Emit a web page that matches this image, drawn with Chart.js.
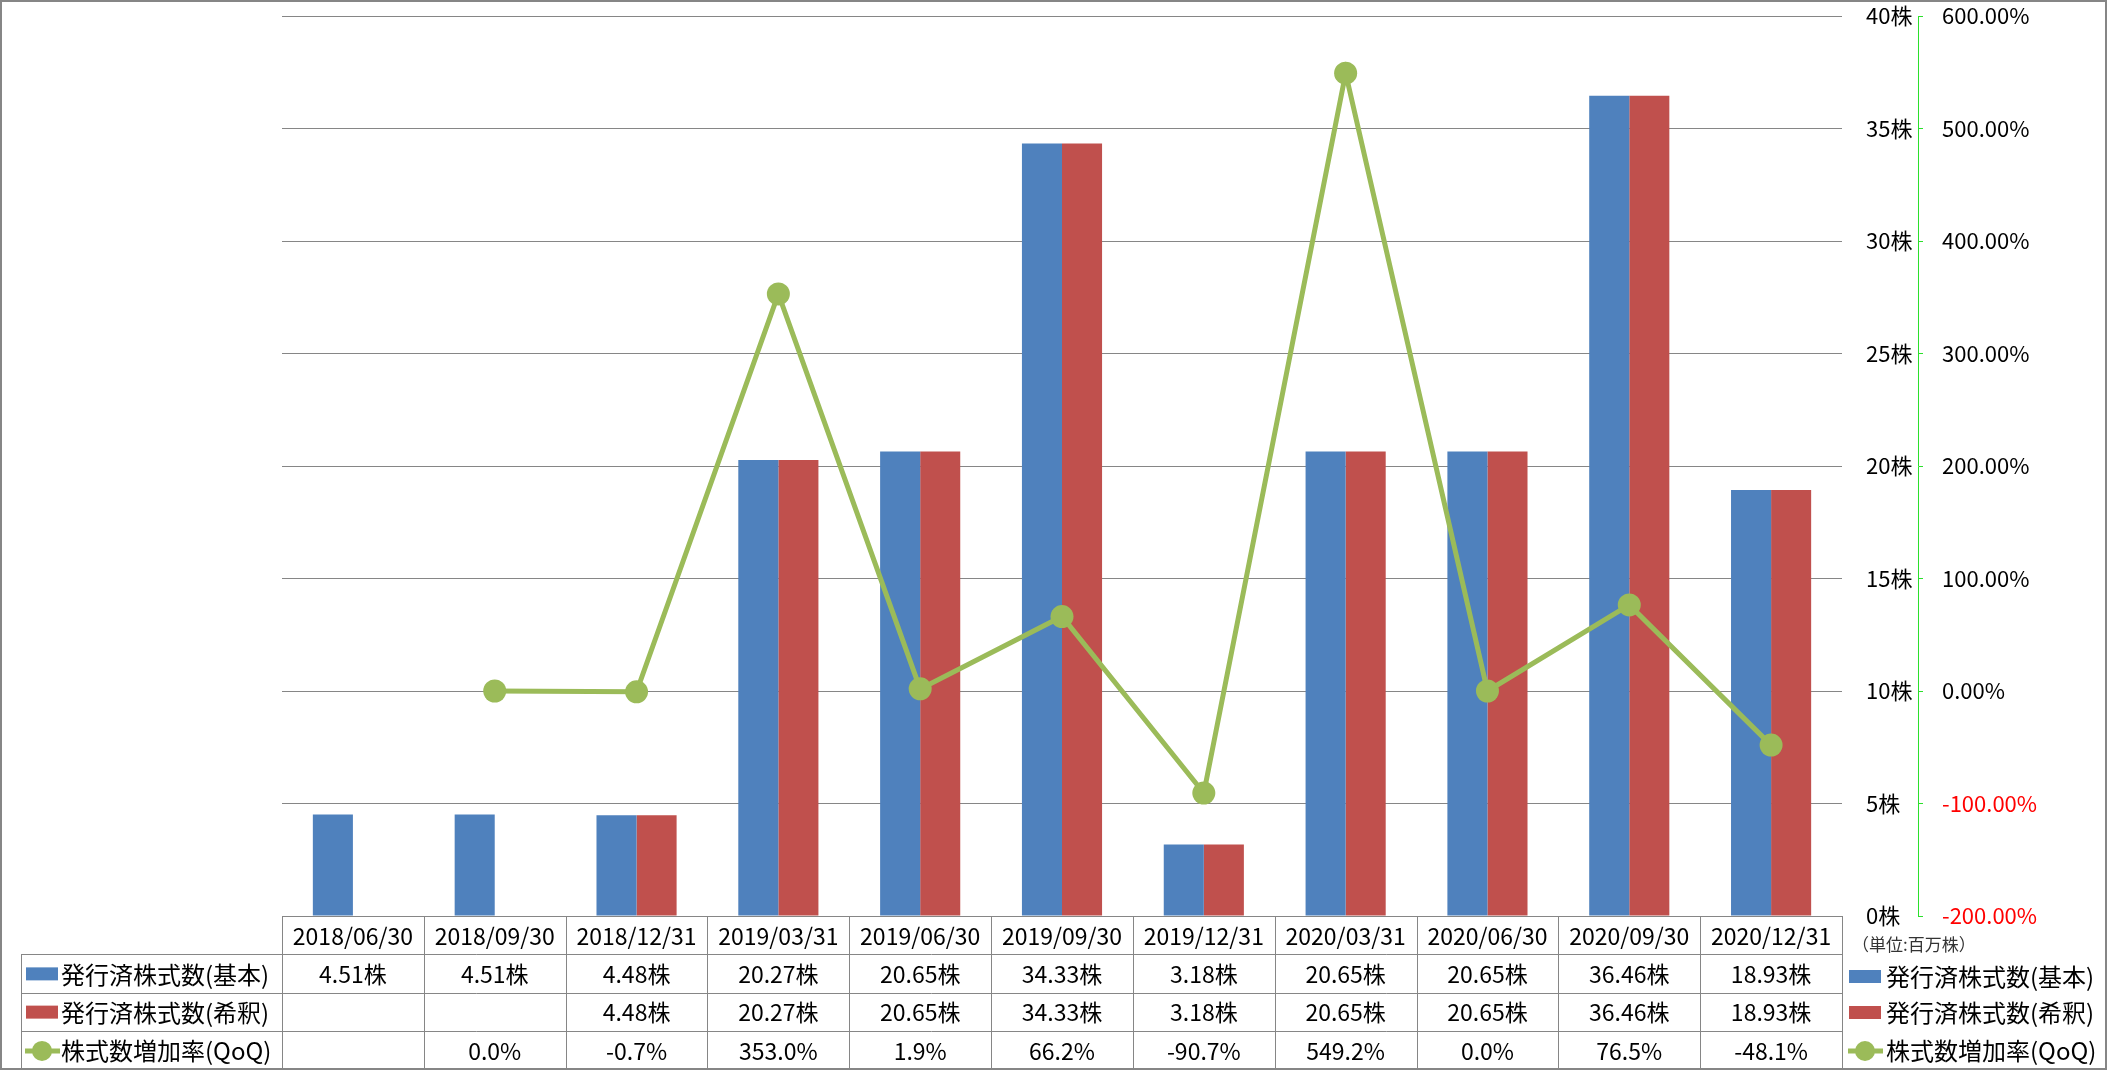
<!DOCTYPE html>
<html>
<head>
<meta charset="utf-8">
<script src="https://cdn.jsdelivr.net/npm/chart.js@4/dist/chart.umd.min.js"></script>
<style>
  html, body { margin: 0; padding: 0; background: #fff; }
  #wrap { width: 2107px; height: 1071px; }
</style>
</head>
<body>
<div id="wrap"><canvas id="sharesChart" width="2107" height="1071"></canvas></div>
<script>
// Data
const labels = [
  '2018/06/30', '2018/09/30', '2018/12/31', '2019/03/31', '2019/06/30', '2019/09/30',
  '2019/12/31', '2020/03/31', '2020/06/30', '2020/09/30', '2020/12/31',
];
const basicShares = [4.51, 4.51, 4.48, 20.27, 20.65, 34.33, 3.18, 20.65, 20.65, 36.46, 18.93];
const dilutedShares = [null, null, 4.48, 20.27, 20.65, 34.33, 3.18, 20.65, 20.65, 36.46, 18.93];
const qoqGrowth = [null, 0.0, -0.7, 353.0, 1.9, 66.2, -90.7, 549.2, 0.0, 76.5, -48.1];
const seriesNames = ['発行済株式数(基本)', '発行済株式数(希釈)', '株式数増加率(QoQ)'];
const unitNote = '（単位:百万株）';

const BLUE = '#4F81BD';
const RED = '#C0504D';
const GREEN = '#9BBB59';
const AXIS_GREEN = '#2BE02B';
const GRID = '#868686';
const FONT = '"Noto Sans CJK JP", "Noto Sans", sans-serif';
const AXIS_SIZE = 22;
const CELL_SIZE = 23;
const NAME_SIZE = 24;

const line = (ctx, x1, y1, x2, y2) => {
  ctx.beginPath();
  ctx.moveTo(x1, y1);
  ctx.lineTo(x2, y2);
  ctx.stroke();
};

const drawKey = (ctx, i, x, y) => {
  if (i < 2) {
    ctx.fillStyle = i === 0 ? BLUE : RED;
    ctx.fillRect(x, y - 7, 32, 13);
  } else {
    ctx.strokeStyle = GREEN;
    ctx.lineWidth = 5;
    line(ctx, x - 1, y, x + 34, y);
    ctx.fillStyle = GREEN;
    ctx.beginPath();
    ctx.arc(x + 16, y, 10, 0, Math.PI * 2);
    ctx.fill();
  }
};

// Data table under the plot + legend on the right
const tablePlugin = {
  id: 'dataTable',
  afterDraw(chart) {
    const { ctx, chartArea: a, scales: { x } } = chart;
    const n = labels.length;
    const colW = (a.right - a.left) / n;
    const top = a.bottom;
    const rowH = 38.25;
    const tableLeft = 21;
    const rows = [
      basicShares.map(v => (v == null ? '' : v.toFixed(2) + '株')),
      dilutedShares.map(v => (v == null ? '' : v.toFixed(2) + '株')),
      qoqGrowth.map(v => (v == null ? '' : v.toFixed(1) + '%')),
    ];

    ctx.save();
    ctx.strokeStyle = GRID;
    ctx.lineWidth = 1;
    line(ctx, a.left, Math.round(top) + 0.5, a.right, Math.round(top) + 0.5);
    for (let r = 1; r <= 4; r++) {
      const y = Math.round(top + r * rowH) + 0.5;
      line(ctx, tableLeft, y, a.right, y);
    }
    for (let i = 0; i <= n; i++) {
      const xx = Math.round(a.left + i * colW) + 0.5;
      line(ctx, xx, top, xx, top + 4 * rowH);
    }
    line(ctx, tableLeft + 0.5, top + rowH, tableLeft + 0.5, top + 4 * rowH);

    ctx.font = `${CELL_SIZE}px ${FONT}`;
    ctx.fillStyle = '#000';
    ctx.textAlign = 'center';
    ctx.textBaseline = 'middle';
    labels.forEach((lab, i) => {
      ctx.fillText(lab, x.getPixelForValue(i), top + rowH / 2 + 1);
    });
    rows.forEach((row, r) => {
      const cy = top + (r + 1.5) * rowH + 1;
      row.forEach((txt, i) => {
        ctx.fillStyle = '#000';
        ctx.font = `${CELL_SIZE}px ${FONT}`;
        ctx.textAlign = 'center';
        ctx.fillText(txt, x.getPixelForValue(i), cy);
      });
      drawKey(ctx, r, 26, cy);
      ctx.fillStyle = '#000';
      ctx.font = `${NAME_SIZE}px ${FONT}`;
      ctx.textAlign = 'left';
      ctx.fillText(seriesNames[r], 61, cy);
    });

    // legend (right)
    const legendY = [977, 1013, 1051];
    seriesNames.forEach((name, i) => {
      drawKey(ctx, i, 1849, legendY[i]);
      ctx.fillStyle = '#000';
      ctx.font = `${NAME_SIZE}px ${FONT}`;
      ctx.textAlign = 'left';
      ctx.fillText(name, 1886, legendY[i]);
    });
    ctx.fillStyle = '#333';
    ctx.font = `17px ${FONT}`;
    ctx.fillText(unitNote, 1852, 945);

    // outer frame
    ctx.strokeStyle = GRID;
    ctx.lineWidth = 2;
    ctx.strokeRect(1, 1, 2105, 1068);
    ctx.restore();
  },
};

const ctx = document.getElementById('sharesChart');
new Chart(ctx, {
  type: 'bar',
  data: {
    labels,
    datasets: [
      {
        type: 'line',
        label: seriesNames[2],
        data: qoqGrowth,
        yAxisID: 'y2',
        borderColor: GREEN,
        backgroundColor: GREEN,
        borderWidth: 5,
        pointRadius: 11.5,
        pointBorderWidth: 0,
        pointBackgroundColor: GREEN,
        tension: 0,
        order: 0,
      },
      {
        label: seriesNames[0],
        data: basicShares,
        yAxisID: 'y',
        backgroundColor: BLUE,
        categoryPercentage: 0.565,
        barPercentage: 1,
        order: 1,
      },
      {
        label: seriesNames[1],
        data: dilutedShares,
        yAxisID: 'y',
        backgroundColor: RED,
        categoryPercentage: 0.565,
        barPercentage: 1,
        order: 2,
      },
    ],
  },
  options: {
    responsive: false,
    animation: false,
    devicePixelRatio: 1,
    layout: {
      padding: { left: 282, top: 16, bottom: 155, right: 0 },
    },
    plugins: {
      legend: { display: false },
      tooltip: { enabled: false },
    },
    scales: {
      x: { display: false },
      y: {
        position: 'right',
        min: 0,
        max: 40,
        ticks: {
          stepSize: 5,
          padding: 24,
          color: '#000',
          font: { family: FONT, size: AXIS_SIZE },
          callback: v => v + '株',
        },
        grid: { color: GRID, drawTicks: false },
        border: { display: false },
        afterFit(s) { s.width = 76; s.paddingTop = 0; s.paddingBottom = 0; },
      },
      y2: {
        position: 'right',
        min: -200,
        max: 600,
        ticks: {
          stepSize: 100,
          padding: 16,
          font: { family: FONT, size: AXIS_SIZE },
          color: c => (c.tick.value < 0 ? '#FF0000' : '#000'),
          callback: v => v.toFixed(2) + '%',
        },
        grid: {
          drawOnChartArea: false,
          drawTicks: true,
          tickLength: 8,
          color: AXIS_GREEN,
          tickBorderDash: [4, 3],
        },
        border: { display: true, color: AXIS_GREEN, dash: [4, 3] },
        afterFit(s) { s.width = 189; s.paddingTop = 0; s.paddingBottom = 0; },
      },
    },
  },
  plugins: [tablePlugin],
});
</script>
</body>
</html>
